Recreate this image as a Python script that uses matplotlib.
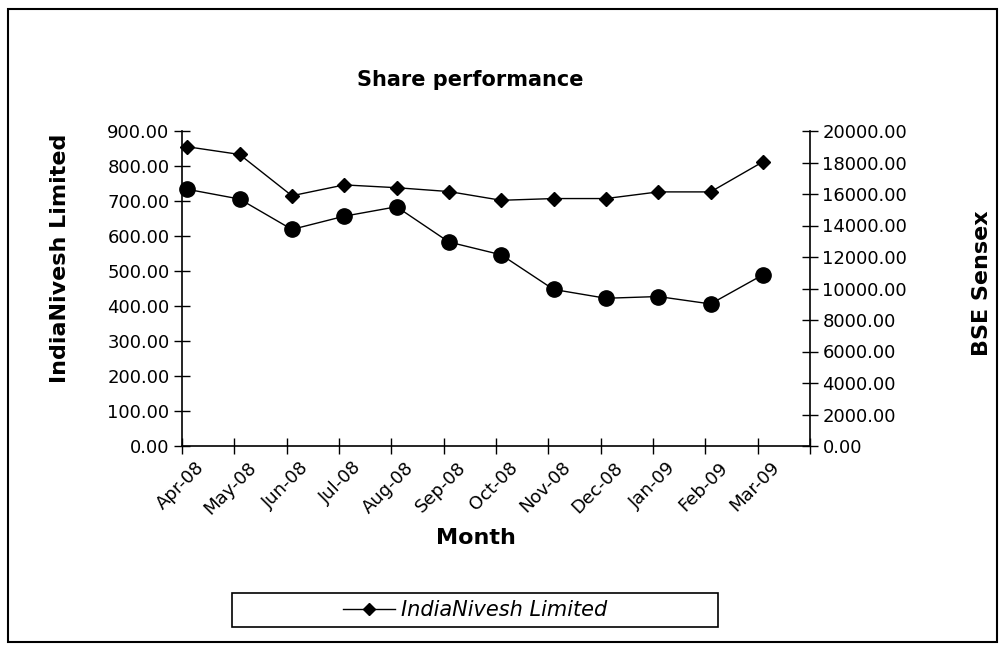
import matplotlib
matplotlib.use("Agg")
import matplotlib.pyplot as plt
import numpy as np
from matplotlib.patches import Rectangle
from matplotlib.lines import Line2D

months = ["Apr-08", "May-08", "Jun-08", "Jul-08", "Aug-08", "Sep-08",
          "Oct-08", "Nov-08", "Dec-08", "Jan-09", "Feb-09", "Mar-09"]
indianivesh = [855, 833, 715, 746, 738, 727, 702, 707, 707, 726, 726, 812]
sensex = [16300, 15680, 13750, 14590, 15190, 12950, 12140, 9940, 9380, 9490, 9020, 10870]
left_ticks = [0, 100, 200, 300, 400, 500, 600, 700, 800, 900]
right_ticks = [0, 2000, 4000, 6000, 8000, 10000, 12000, 14000, 16000, 18000, 20000]

plt.rcParams['font.family'] = ['DejaVu Sans']
FS = 13

fig = plt.figure(figsize=(9.99, 6.53), dpi=100)
ax = fig.add_axes([182/999, 1-446/653, (810-182)/999, (446-131)/653])
ax2 = ax.twinx()

x = np.arange(len(months))
ax.plot(x + 0.1, indianivesh, color='black', lw=1.0, marker='D', ms=7, mfc='black', mec='black',
        zorder=3, clip_on=False)
ax2.plot(x + 0.1, sensex, color='black', lw=1.0, marker='o', ms=11, mfc='black', mec='black',
         zorder=3, clip_on=False)

ax.set_xlim(0, len(months))
ax.set_ylim(0, 900)
ax2.set_ylim(0, 20000)

ax.set_yticks(left_ticks)
ax.set_yticklabels([f"{v:.2f}" for v in left_ticks], fontsize=FS)
ax2.set_yticks(right_ticks)
ax2.set_yticklabels([f"{v:.2f}" for v in right_ticks], fontsize=FS)

ax.set_xticks(np.arange(len(months) + 1))
ax.set_xticklabels([])
ax.set_xticks(x + 0.25, minor=True)
ax.set_xticklabels(months, minor=True, rotation=45, ha='right', rotation_mode='anchor', fontsize=FS)
ax.tick_params(axis='x', which='minor', length=0, pad=9)
ax.tick_params(axis='x', which='major', direction='inout', length=12, width=1)
ax.tick_params(axis='y', direction='inout', length=12, width=1, pad=3)
ax2.tick_params(axis='y', direction='inout', length=12, width=1, pad=3)

for a in (ax, ax2):
    a.spines['top'].set_visible(False)
    for s in a.spines.values():
        s.set_linewidth(1.2)
ax.spines['right'].set_visible(False)
ax2.spines['left'].set_visible(False)
ax2.spines['bottom'].set_visible(False)
ax.set_facecolor('none')

fig.text(470/999, 1-80/653, "Share performance", ha='center', va='center', fontsize=15, fontweight='bold')
fig.text(476/999, 1-538/653, "Month", ha='center', va='center', fontsize=16, fontweight='bold')
fig.text(60/999, 1-258/653, "IndiaNivesh Limited", ha='center', va='center', rotation=90, fontsize=16, fontweight='bold')
fig.text(982/999, 1-283/653, "BSE Sensex", ha='center', va='center', rotation=90, fontsize=16, fontweight='bold')

# outer frame
fig.patches.append(Rectangle((8/999, 1-642/653), (997-8)/999, (642-9)/653, transform=fig.transFigure,
                             fill=False, edgecolor='black', lw=1.5))
# legend box
fig.patches.append(Rectangle((232/999, 1-627/653), (718-232)/999, (627-593)/653, transform=fig.transFigure,
                             fill=False, edgecolor='black', lw=1.2))
handle = Line2D([], [], color='black', lw=1.0, marker='D', ms=6)
fig.legend([handle], ["IndiaNivesh Limited"], loc='center', bbox_to_anchor=(475/999, 1-610/653),
           frameon=False, prop={'size': 15, 'style': 'italic'}, handlelength=2.5, handletextpad=0.3)

fig.savefig("out.png", dpi=100, facecolor='white')
